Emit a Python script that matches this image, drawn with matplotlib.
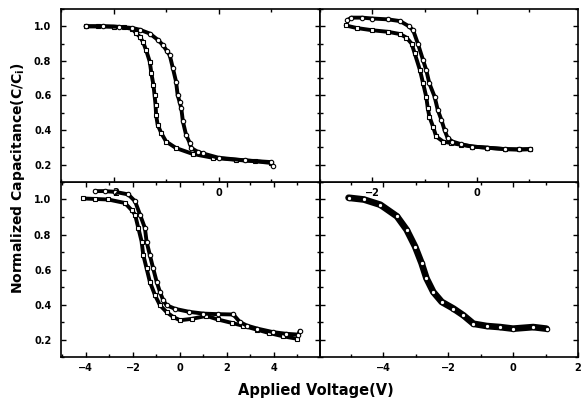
import numpy as np
import matplotlib
matplotlib.use("Agg")
import matplotlib.pyplot as plt
from matplotlib.ticker import MultipleLocator, FormatStrFormatter


# Data (voltage in V, normalized capacitance)
# Top left panel
tl_sq_v = [-2.53, -2.3, -2.0, -1.8, -1.64, -1.57, -1.5, -1.44, -1.38, -1.31, -1.28, -1.24,
           -1.22, -1.20, -1.19, -1.16, -1.09, -1.0, -0.81, -0.49, -0.11, 0.34, 0.7, 1.0]
tl_sq_c = [1.0, 1.0, 0.998, 0.993, 0.985, 0.96, 0.94, 0.91, 0.862, 0.795, 0.728, 0.66,
           0.603, 0.545, 0.488, 0.43, 0.382, 0.334, 0.296, 0.262, 0.24, 0.228, 0.22, 0.21]
tl_ci_v = [-2.53, -2.2, -1.9, -1.64, -1.5, -1.31, -1.15, -1.06, -0.99, -0.93, -0.87, -0.81,
           -0.78, -0.74, -0.71, -0.68, -0.62, -0.55, -0.52, -0.4, -0.3, 0.0, 0.5, 1.0, 1.03]
tl_ci_c = [1.0, 1.0, 0.997, 0.99, 0.98, 0.958, 0.92, 0.891, 0.86, 0.833, 0.757, 0.68,
           0.603, 0.56, 0.526, 0.45, 0.373, 0.326, 0.296, 0.275, 0.265, 0.24, 0.225, 0.215, 0.195]

# Top right panel
tr_sq_v = [-2.51, -2.3, -2.0, -1.7, -1.47, -1.35, -1.25, -1.19, -1.09, -1.03, -0.97, -0.94,
           -0.91, -0.84, -0.78, -0.65, -0.5, -0.3, -0.09, 0.2, 0.54, 0.8, 1.02]
tr_sq_c = [1.005, 0.99, 0.977, 0.968, 0.955, 0.935, 0.9, 0.843, 0.747, 0.67, 0.593, 0.526,
           0.478, 0.42, 0.363, 0.334, 0.325, 0.315, 0.305, 0.298, 0.29, 0.288, 0.29]
tr_ci_v = [-2.48, -2.4, -2.2, -2.0, -1.7, -1.47, -1.3, -1.22, -1.13, -1.03, -0.97, -0.91,
           -0.81, -0.75, -0.68, -0.62, -0.56, -0.47, -0.3, -0.09, 0.2, 0.54, 0.8, 1.02]
tr_ci_c = [1.035, 1.05, 1.05, 1.045, 1.04, 1.03, 1.0, 0.977, 0.9, 0.804, 0.747, 0.67,
           0.593, 0.517, 0.459, 0.4, 0.353, 0.334, 0.318, 0.305, 0.298, 0.29, 0.288, 0.29]

# Bottom left panel
bl_ci_v = [-3.62, -3.2, -2.77, -2.2, -1.91, -1.70, -1.49, -1.42, -1.28, -1.14, -0.99, -0.85,
           -0.71, -0.57, -0.2, 0.4, 1.0, 1.6, 2.27, 2.55, 2.84, 3.3, 3.97, 4.5, 5.03, 5.1]
bl_ci_c = [1.048, 1.048, 1.044, 1.029, 0.99, 0.914, 0.837, 0.76, 0.683, 0.607, 0.53, 0.472,
           0.424, 0.396, 0.375, 0.358, 0.348, 0.345, 0.343, 0.30, 0.28, 0.262, 0.242, 0.233, 0.228, 0.25]
bl_sq_v = [-4.11, -3.6, -3.05, -2.34, -2.06, -1.91, -1.77, -1.63, -1.56, -1.42, -1.28, -1.06,
           -0.85, -0.57, -0.3, 0.0, 0.5, 1.13, 1.6, 2.2, 2.7, 3.26, 3.8, 4.4, 4.96]
bl_sq_c = [1.006, 1.003, 1.0, 0.98, 0.94, 0.914, 0.837, 0.76, 0.683, 0.607, 0.53, 0.453,
           0.396, 0.357, 0.33, 0.31, 0.318, 0.335, 0.315, 0.295, 0.278, 0.257, 0.237, 0.218, 0.205]

# Bottom right panel
br_v = [-5.07, -4.6, -4.09, -3.58, -3.28, -3.02, -2.82, -2.67, -2.46, -2.2, -1.84, -1.53,
        -1.22, -0.81, -0.4, 0.0, 0.62, 1.03]
br_c = [1.01, 1.0, 0.97, 0.904, 0.827, 0.731, 0.636, 0.55, 0.472, 0.415, 0.377, 0.338,
        0.29, 0.277, 0.271, 0.262, 0.271, 0.262]

# x ranges of each panel
top_xlim = (-3.0, 1.93)
bl_xlim = (-5.06, 5.96)
br_xlim = (-5.95, 2.0)
ylim = (0.1, 1.1)

plt.rcParams['font.family'] = 'DejaVu Sans'
plt.rcParams['font.weight'] = 'bold'
plt.rcParams['mathtext.default'] = 'bf'


# Plot one sweep as a thick black band with small open markers on it
def plot_sweep(ax, v, c, marker, lw=2.8):
    ax.plot(v, c, color='black', lw=lw, solid_capstyle='round', solid_joinstyle='round')
    ax.plot(v, c, ls='none', marker=marker, ms=3.2, mfc='white', mec='black', mew=0.8)


# Common styling for a panel
def style_axes(ax, xlim, show_ylabels):
    ax.set_xlim(*xlim)
    ax.set_ylim(*ylim)
    ax.xaxis.set_major_locator(MultipleLocator(2))
    ax.xaxis.set_minor_locator(MultipleLocator(1))
    ax.yaxis.set_major_locator(MultipleLocator(0.2))
    ax.yaxis.set_minor_locator(MultipleLocator(0.1))
    ax.yaxis.set_major_formatter(FormatStrFormatter('%.1f'))
    ax.tick_params(which='both', direction='in', top=True, right=True, width=1)
    ax.tick_params(which='major', length=3.5, labelsize=7, pad=4)
    ax.tick_params(which='minor', length=2)
    ax.tick_params(axis='y', which='major', pad=7, labelleft=show_ylabels)
    for s in ax.spines.values():
        s.set_linewidth(1.2)


fig = plt.figure(figsize=(5.81, 4.03), dpi=100)

L, M, R = 0.105, 0.5508, 0.9948
T, MID, B = 0.9777, 0.5484, 0.1141

# bottom panels first so the top panels tick labels sit over them
ax_bl = fig.add_axes([L, B, M - L, MID - B])
ax_br = fig.add_axes([M, B, R - M, MID - B])
ax_tl = fig.add_axes([L, MID, M - L, T - MID])
ax_tr = fig.add_axes([M, MID, R - M, T - MID])
ax_bl.patch.set_alpha(0)
ax_br.patch.set_alpha(0)

plot_sweep(ax_tl, tl_sq_v, tl_sq_c, 's')
plot_sweep(ax_tl, tl_ci_v, tl_ci_c, 'o')
plot_sweep(ax_tr, tr_sq_v, tr_sq_c, 's')
plot_sweep(ax_tr, tr_ci_v, tr_ci_c, 'o')
plot_sweep(ax_bl, bl_sq_v, bl_sq_c, 's')
plot_sweep(ax_bl, bl_ci_v, bl_ci_c, 'o')
plot_sweep(ax_br, br_v, br_c, 'o', lw=4.8)

style_axes(ax_tl, top_xlim, True)
style_axes(ax_tr, top_xlim, False)
style_axes(ax_bl, bl_xlim, True)
style_axes(ax_br, br_xlim, False)

fig.text(0.031, 1 - 178 / 403, 'Normalized Capacitance(C/C$_{i}$)', rotation=90,
         ha='center', va='center', fontsize=10, fontweight='bold')
fig.text(0.543, 1 - 390 / 403, 'Applied Voltage(V)', ha='center', va='center',
         fontsize=10.5, fontweight='bold')

fig.savefig('out.png', dpi=100)
